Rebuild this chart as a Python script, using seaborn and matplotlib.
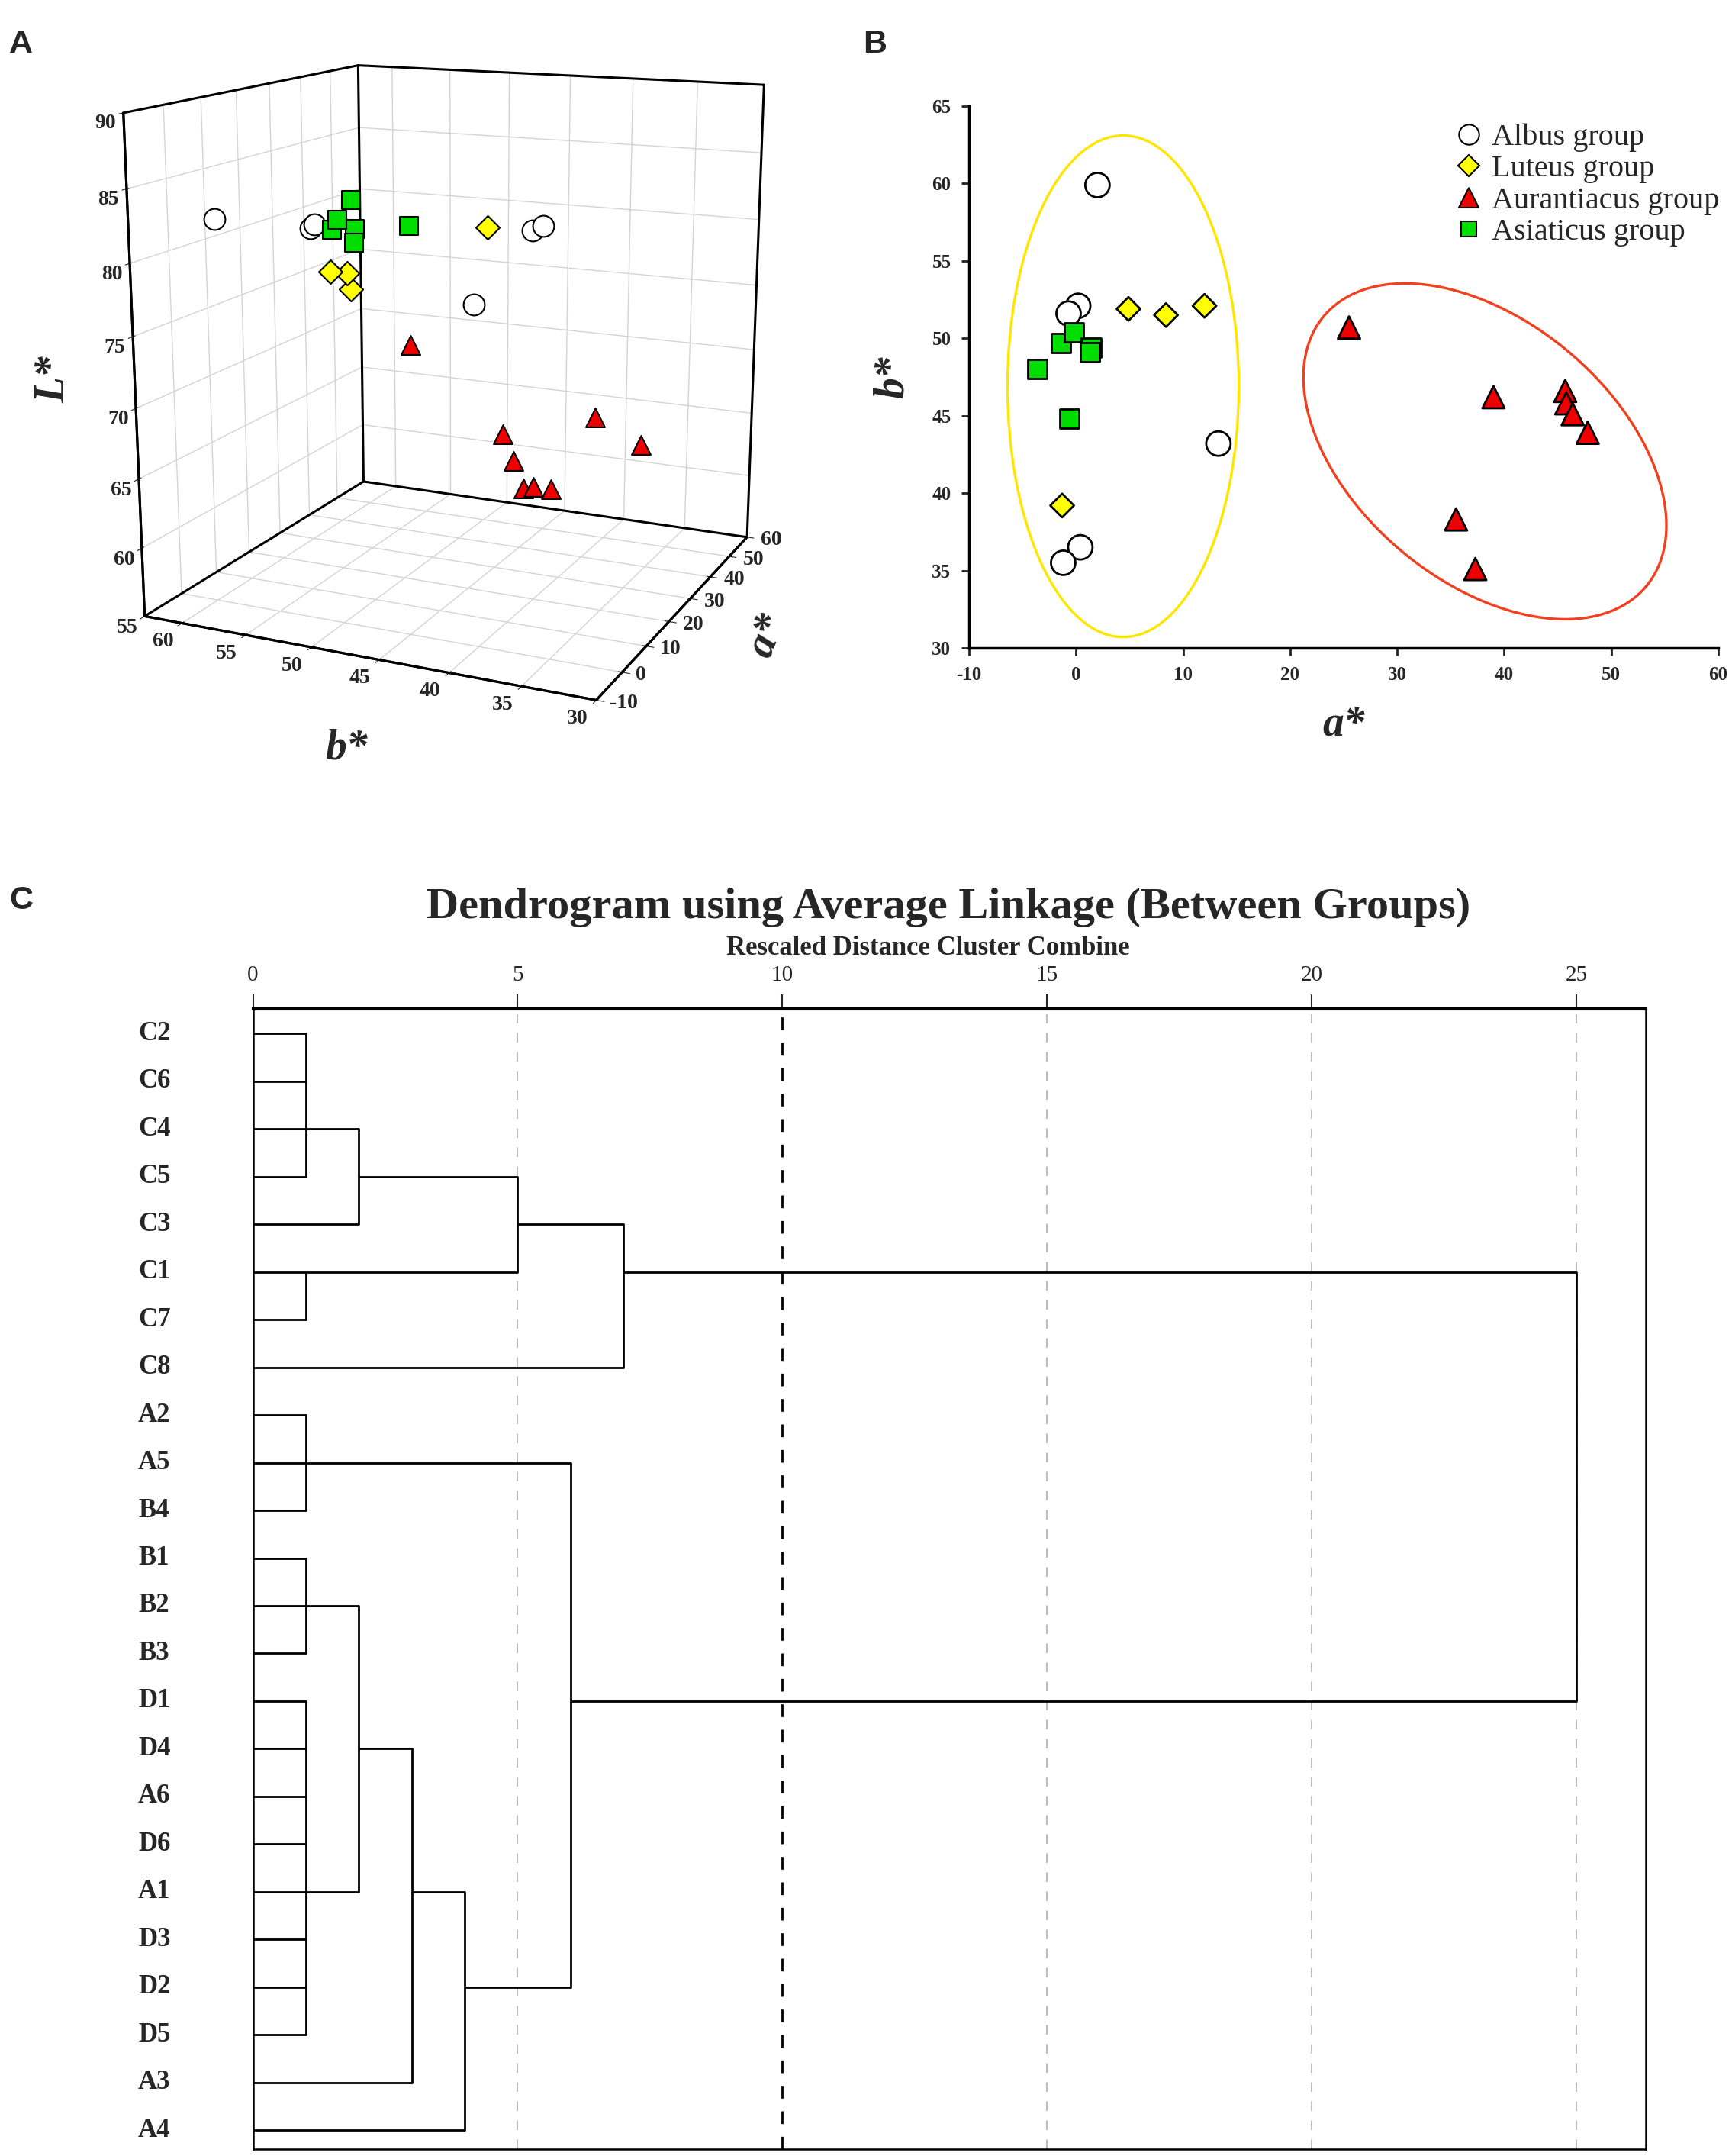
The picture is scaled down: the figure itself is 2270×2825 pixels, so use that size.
import numpy as np
import pandas as pd
import seaborn as sns
import matplotlib.pyplot as plt
from matplotlib.lines import Line2D
from matplotlib.patches import Ellipse
from matplotlib.transforms import blended_transform_factory, IdentityTransform
from mpl_toolkits.mplot3d import proj3d

# ---------------------------------------------------------------- data
groups = ['Albus group', 'Luteus group', 'Aurantiacus group', 'Asiaticus group']

albus_a = [2.0, 0.2, -0.7, 13.3, 0.4, -1.2]
albus_b = [59.9, 52.1, 51.6, 43.2, 36.5, 35.5]
albus_L = [82.3, 82.4, 82.8, 76.8, 83.5, 84.0]

luteus_a = [4.9, 8.4, 12.0, -1.3]
luteus_b = [51.9, 51.5, 52.1, 39.2]
luteus_L = [79.1, 78.7, 77.2, 83.6]

aurant_a = [25.5, 39.0, 45.7, 45.8, 46.4, 47.8, 35.5, 37.3]
aurant_b = [50.7, 46.2, 46.6, 45.8, 45.1, 43.9, 38.3, 35.1]
aurant_L = [71.9, 64.0, 60.9, 58.8, 58.9, 58.7, 66.7, 64.8]

asiat_a = [-3.6, -1.4, -0.2, 1.4, 1.3, -0.6]
asiat_b = [48.0, 49.7, 50.4, 49.4, 49.1, 44.8]
asiat_L = [82.1, 83.3, 82.5, 84.4, 82.5, 83.2]

a_ticks = list(range(-10, 61, 10))
b_ticks = list(range(30, 61, 5))
L_ticks = list(range(55, 91, 5))

# cluster ellipses drawn in panel B
yellow_centre = (4.4, 46.9)
yellow_half = (10.8, 16.2)          # half widths in a*, b* units
red_centre = (38.2, 42.7)
red_axes_px = (275.6, 170.4)        # semi axes on the page, pixels
red_angle = -40.0

# dendrogram (SPSS average linkage, rescaled distance)
leaf_names = ['C2', 'C6', 'C4', 'C5', 'C3', 'C1', 'C7', 'C8',
              'A2', 'A5', 'B4', 'B1', 'B2', 'B3',
              'D1', 'D4', 'A6', 'D6', 'A1', 'D3', 'D2', 'D5', 'A3', 'A4']
merges = [
    ('n1', ['C2', 'C6', 'C4', 'C5'], 1, 'C4'),
    ('n2', ['n1', 'C3'], 2, 'C5'),
    ('n3', ['C1', 'C7'], 1, 'C1'),
    ('n4', ['n2', 'n3'], 5, 'C3'),
    ('n5', ['n4', 'C8'], 7, 'C1'),
    ('n6', ['A2', 'A5', 'B4'], 1, 'A5'),
    ('n7', ['B1', 'B2', 'B3'], 1, 'B2'),
    ('n8', ['D1', 'D4', 'A6', 'D6', 'A1', 'D3', 'D2', 'D5'], 1, 'A1'),
    ('n9', ['n7', 'n8'], 2, 'D4'),
    ('n10', ['n9', 'A3'], 3, 'A1'),
    ('n11', ['n10', 'A4'], 4, 'D2'),
    ('n12', ['n6', 'n11'], 6, 'D1'),
    ('n13', ['n5', 'n12'], 25, None),
]
dist_ticks = [0, 5, 10, 15, 20, 25]

df = pd.concat([
    pd.DataFrame({'a': albus_a, 'b': albus_b, 'L': albus_L, 'group': groups[0]}),
    pd.DataFrame({'a': luteus_a, 'b': luteus_b, 'L': luteus_L, 'group': groups[1]}),
    pd.DataFrame({'a': aurant_a, 'b': aurant_b, 'L': aurant_L, 'group': groups[2]}),
    pd.DataFrame({'a': asiat_a, 'b': asiat_b, 'L': asiat_L, 'group': groups[3]}),
], ignore_index=True)

colors = dict(zip(groups, ['white', '#FFFF00', '#EE0000', '#00DD00']))
markers = dict(zip(groups, ['o', 'D', '^', 's']))
sizes_b = dict(zip(groups, [530, 250, 440, 330]))
sizes_3d = dict(zip(groups, [400, 250, 320, 280]))

# ---------------------------------------------------------------- style
sns.set_style("white")
plt.rcParams['font.family'] = ['Liberation Serif', 'DejaVu Serif']
plt.rcParams['axes.unicode_minus'] = False

W, H = 2270, 2825
fig = plt.figure(figsize=(W / 100, H / 100), dpi=100)

def panel_label(x, y, s):
    fig.text(x / W, 1 - y / H, s, fontsize=31, fontweight='bold',
             family=['Liberation Sans', 'DejaVu Sans'], ha='left', va='center')

panel_label(12, 58, 'A')
panel_label(1131, 58, 'B')
panel_label(12, 1180, 'C')

lab_kw = dict(fontsize=40, fontweight='bold', fontstyle='italic')

# ---------------------------------------------------------------- panel A (3D)
ax3 = fig.add_axes([0.0157, 0.6506, 0.4902, 0.3701], projection='3d')
ax3.computed_zorder = False
xl, yl, zl = (-10, 60), (30, 63), (55, 90)
ax3.set_xlim(*xl)
ax3.set_ylim(*yl)
ax3.set_zlim(*zl)

# black outline of the floor and the two back walls
x0, x1 = xl
y0, y1 = yl
z0, z1 = zl
edges = [((x0, x1), (y0, y0), (z0, z0)), ((x1, x1), (y0, y1), (z0, z0)),
         ((x1, x0), (y1, y1), (z0, z0)), ((x0, x0), (y1, y0), (z0, z0)),
         ((x1, x1), (y0, y0), (z0, z1)), ((x1, x1), (y1, y1), (z0, z1)),
         ((x0, x0), (y1, y1), (z0, z1)), ((x1, x1), (y0, y1), (z1, z1)),
         ((x0, x1), (y1, y1), (z1, z1))]
for ex_, ey_, ez_ in edges:
    ax3.plot(ex_, ey_, ez_, color='k', lw=2.2, zorder=1)

for g in groups:
    d = df[df.group == g]
    ax3.scatter(d.a, d.b, d.L, marker=markers[g], s=sizes_3d[g], c=colors[g],
                edgecolors='k', linewidths=1.5, depthshade=False, alpha=1, zorder=3)

ax3.set_xticks(a_ticks)
ax3.set_yticks(b_ticks)
ax3.set_zticks(L_ticks)
ax3.set_xticklabels([])
ax3.set_yticklabels([])
ax3.set_proj_type('persp', focal_length=0.45)
ax3.view_init(elev=14, azim=-155.5)
ax3.set_box_aspect((0.86, 0.87, 0.91))
for axis in (ax3.xaxis, ax3.yaxis, ax3.zaxis):
    axis.set_pane_color((1, 1, 1, 1))
    axis.pane.set_edgecolor((1, 1, 1, 0))
    axis.line.set_color('k')
    axis.line.set_linewidth(2.2)
    axis._axinfo['grid'].update(color='#d4d4d4', linewidth=1.0)
ax3.tick_params(axis='z', labelsize=20, pad=2)
for lab in ax3.get_zticklabels():
    lab.set_fontweight('bold')
ax3.set_xlabel('')
ax3.set_ylabel('')
ax3.set_zlabel('')
fig.text(1005 / W, 1 - 833 / H, 'a*', rotation=68, ha='center', va='center', **lab_kw)
fig.text(454 / W, 1 - 980 / H, 'b*', ha='center', va='center', **lab_kw)
fig.text(70 / W, 1 - 497 / H, 'L*', rotation=90, ha='center', va='center', **lab_kw)

# floor tick labels placed next to the projected tick positions
fig.canvas.draw()
M = ax3.M
tick_font = dict(fontsize=20, fontweight='bold')
for v in a_ticks:
    xs, ys, _ = proj3d.proj_transform(v, y0, z0, M)
    px, py = ax3.transData.transform((xs, ys))
    fig.text(px + 18, py - 4, str(v), transform=IdentityTransform(),
             ha='left', va='center', **tick_font)
for v in b_ticks:
    xs, ys, _ = proj3d.proj_transform(x0, v, z0, M)
    px, py = ax3.transData.transform((xs, ys))
    fig.text(px - 25, py - 24, str(v), transform=IdentityTransform(),
             ha='center', va='center', **tick_font)

# ---------------------------------------------------------------- panel B
axb = fig.add_axes([1270 / W, 1 - 849 / H, 982 / W, 710 / H])
axb.set_xlim(-10, 60)
axb.set_ylim(30, 65)

axb.add_patch(Ellipse(yellow_centre, 2 * yellow_half[0], 2 * yellow_half[1],
                      fill=False, edgecolor='#FFE600', lw=2.4, zorder=1))
px_a = 982 / 70.0
px_b = 710 / 35.0
t = np.linspace(0, 2 * np.pi, 400)
th = np.deg2rad(red_angle)
p, q = red_axes_px
ex = red_centre[0] + (p * np.cos(th) * np.cos(t) - q * np.sin(th) * np.sin(t)) / px_a
ey = red_centre[1] + (p * np.sin(th) * np.cos(t) + q * np.cos(th) * np.sin(t)) / px_b
axb.plot(ex, ey, color='#F0401E', lw=2.4, zorder=1)

sns.scatterplot(data=df, x='a', y='b', hue='group', style='group', size='group',
                palette=colors, markers=markers, sizes=sizes_b,
                edgecolor='k', linewidth=2, legend=False, ax=axb, zorder=3)

axb.set_xticks(range(-10, 61, 10))
axb.set_yticks(range(30, 66, 5))
axb.tick_params(bottom=True, left=True, direction='out', length=7, width=2,
                labelsize=18, pad=10)
for lab in axb.get_xticklabels() + axb.get_yticklabels():
    lab.set_fontweight('bold')
sns.despine(ax=axb)
for sp in ('left', 'bottom'):
    axb.spines[sp].set_linewidth(2.5)
    axb.spines[sp].set_color('k')
axb.set_xlabel('a*', labelpad=20, **lab_kw)
axb.set_ylabel('b*', labelpad=18, **lab_kw)

handles = [Line2D([], [], ls='none', marker=markers[g], markersize=ms,
                  markerfacecolor=colors[g], markeredgecolor='k', markeredgewidth=1.5)
           for g, ms in zip(groups, [19, 14, 19, 15])]
axb.legend(handles, groups, loc='upper left', bbox_to_anchor=(0.646, 0.968),
           frameon=False, fontsize=29, handlelength=1.0, handletextpad=0.25,
           labelspacing=0.1, borderpad=0, borderaxespad=0)

# ---------------------------------------------------------------- panel C
axc = fig.add_axes([331.5 / W, 1 - 2816 / H, 1825 / W, 1494 / H])
axc.set_xlim(0, 26.3)
axc.set_ylim(23.4, -0.52)

for v in dist_ticks[1:]:
    axc.axvline(v, color='k' if v == 10 else '#bdbdbd', lw=2 if v == 10 else 1.5,
                ls=(0, (6, 6)), zorder=0)

row_of = {n: i for i, n in enumerate(leaf_names)}
height_of = {n: 0.0 for n in leaf_names}
for node, children, h, out in merges:
    rows = [row_of[c] for c in children]
    for c in children:
        axc.plot([height_of[c], h], [row_of[c], row_of[c]], color='k', lw=2,
                 solid_capstyle='butt', zorder=2)
    axc.plot([h, h], [min(rows), max(rows)], color='k', lw=2, zorder=2)
    if out is not None:
        row_of[node] = row_of[out]
        height_of[node] = h

axc.xaxis.tick_top()
axc.set_xticks(dist_ticks)
axc.set_xticklabels([str(v) for v in dist_ticks])
axc.tick_params(top=True, bottom=False, left=False, direction='out', length=14,
                width=1.5, labelsize=21, pad=8)
axc.set_yticks([])
for sp in axc.spines.values():
    sp.set_visible(True)
    sp.set_color('k')
    sp.set_linewidth(1.8)
axc.spines['top'].set_linewidth(3)

tr = blended_transform_factory(axc.transAxes, axc.transData)
for i, n in enumerate(leaf_names):
    axc.text(-0.0825, i, n, transform=tr, ha='left', va='center',
             fontsize=25, fontweight='bold')

fig.text(1243 / W, 1 - 1189 / H, 'Dendrogram using Average Linkage (Between Groups)',
         ha='center', va='center', fontsize=42, fontweight='bold')
fig.text(1216 / W, 1 - 1243 / H, 'Rescaled Distance Cluster Combine',
         ha='center', va='center', fontsize=25, fontweight='bold')

fig.savefig('out.png', dpi=100)
